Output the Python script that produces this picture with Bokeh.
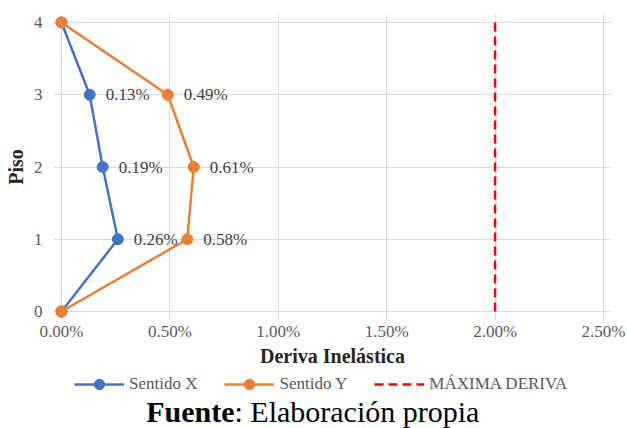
from bokeh.plotting import figure
from bokeh.layouts import column
from bokeh.models import (Range1d, FixedTicker, NumeralTickFormatter, Legend, LegendItem,
                          ColumnDataSource, LabelSet, Label)
from bokeh.embed import file_html
from bokeh.resources import INLINE

# ---- data ----
floors = [0, 1, 2, 3, 4]
drift_x = [0.0, 0.0026, 0.0019, 0.0013, 0.0]
drift_y = [0.0, 0.0058, 0.0061, 0.0049, 0.0]
max_drift = 0.02
x_ticks = [0.0, 0.005, 0.010, 0.015, 0.020, 0.025]
y_ticks = [0, 1, 2, 3, 4]
series_names = ["Sentido X", "Sentido Y", "MÁXIMA DERIVA"]
x_title = "Deriva Inelástica"
y_title = "Piso"
source_bold = "Fuente"
source_rest = ": Elaboración propia"

# ---- style ----
FONT = "Liberation Serif"
BLUE = "#4472C4"
ORANGE = "#ED7D31"
RED = "#FF0000"
GRID = "#D9D9D9"
TXT = "#595959"

W = 627
H1 = 372
H2 = 56
BL, BR = 53, 16
x_pad = 0.000369
y_pad = 0.1107

p = figure(width=W, height=H1, output_backend="svg", toolbar_location=None,
           x_range=Range1d(x_ticks[0] - x_pad, x_ticks[-1] + x_pad),
           y_range=Range1d(y_ticks[0] - y_pad, y_ticks[-1] + y_pad),
           min_border_left=BL, min_border_right=BR, min_border_top=14, min_border_bottom=53)
p.outline_line_color = None
p.background_fill_color = "white"
p.border_fill_color = "white"

p.xaxis.ticker = FixedTicker(ticks=x_ticks)
p.xaxis.formatter = NumeralTickFormatter(format="0.00%")
p.yaxis.ticker = FixedTicker(ticks=y_ticks)
for ax in (p.xaxis[0], p.yaxis[0]):
    ax.axis_line_color = None
    ax.major_tick_line_color = None
    ax.minor_tick_line_color = None
    ax.major_label_text_font = FONT
    ax.major_label_text_font_size = "17px"
    ax.major_label_text_color = TXT
    ax.axis_label_text_font = FONT
    ax.axis_label_text_font_size = "20px"
    ax.axis_label_text_font_style = "bold"
    ax.axis_label_text_color = "#262626"
p.xaxis.axis_label = x_title
p.yaxis.axis_label = y_title
p.xaxis.major_label_standoff = -4
p.xaxis.axis_label_standoff = 1
p.yaxis.major_label_standoff = 5
p.yaxis.axis_label_standoff = 4

p.xgrid.grid_line_color = GRID
p.ygrid.grid_line_color = GRID
p.xgrid.ticker = FixedTicker(ticks=x_ticks)
p.ygrid.ticker = FixedTicker(ticks=y_ticks)

def draw_series(fig):
    r_m = fig.line([max_drift, max_drift], [floors[0], floors[-1]], line_color=RED,
                   line_width=2.5, line_dash="9 5")
    rx_l = fig.line(drift_x, floors, line_color=BLUE, line_width=2.5)
    rx_s = fig.scatter(drift_x, floors, size=11, fill_color=BLUE, line_color=BLUE)
    ry_l = fig.line(drift_y, floors, line_color=ORANGE, line_width=2.5)
    ry_s = fig.scatter(drift_y, floors, size=11, fill_color=ORANGE, line_color=ORANGE)
    return r_m, rx_l, rx_s, ry_l, ry_s

draw_series(p)

def lbl_source(vals):
    xs, ys, ts = [], [], []
    for v, f in zip(vals, floors):
        if v > 0:
            xs.append(v); ys.append(f); ts.append(f"{v*100:.2f}%")
    return ColumnDataSource(dict(x=xs, y=ys, t=ts))

for vals in (drift_x, drift_y):
    ls = LabelSet(x="x", y="y", text="t", source=lbl_source(vals), x_offset=16,
                  text_align="left", text_baseline="middle", text_font=FONT,
                  text_font_size="17px", text_color="#404040")
    p.add_layout(ls)

# ---- legend + source strip (page-pixel coordinates) ----
p2 = figure(width=W, height=H2, output_backend="svg", toolbar_location=None,
            x_range=Range1d(BL, W - BR), y_range=Range1d(H2, 0),
            x_axis_type=None, y_axis_type=None,
            min_border_left=BL, min_border_right=BR, min_border_top=0, min_border_bottom=0)
p2.outline_line_color = None
p2.background_fill_color = "white"
p2.border_fill_color = "white"

# legend proxies: same series, lying outside this strip's visible range
lm_l, lx_l, lx_s, ly_l, ly_s = draw_series(p2)

legend = Legend(items=[LegendItem(label=series_names[0], renderers=[lx_l, lx_s]),
                       LegendItem(label=series_names[1], renderers=[ly_l, ly_s]),
                       LegendItem(label=series_names[2], renderers=[lm_l])],
                orientation="horizontal", location=(74 - BL, 31),
                border_line_color=None, background_fill_alpha=0,
                label_text_font=FONT, label_text_font_size="17px", label_text_color=TXT,
                glyph_width=50, glyph_height=26, label_standoff=5, spacing=27,
                padding=0, margin=0, label_height=26)
p2.add_layout(legend)

split_x = 234
fuente_y = 39
p2.add_layout(Label(x=split_x, y=fuente_y, text=source_bold, text_font=FONT,
                    text_font_size="30px", text_font_style="bold", text_color="black",
                    text_align="right", text_baseline="alphabetic"))
p2.add_layout(Label(x=split_x, y=fuente_y, text=source_rest, text_font=FONT,
                    text_font_size="30px", text_color="black",
                    text_align="left", text_baseline="alphabetic"))

open("out.html", "w").write(file_html(column(p, p2), INLINE))
